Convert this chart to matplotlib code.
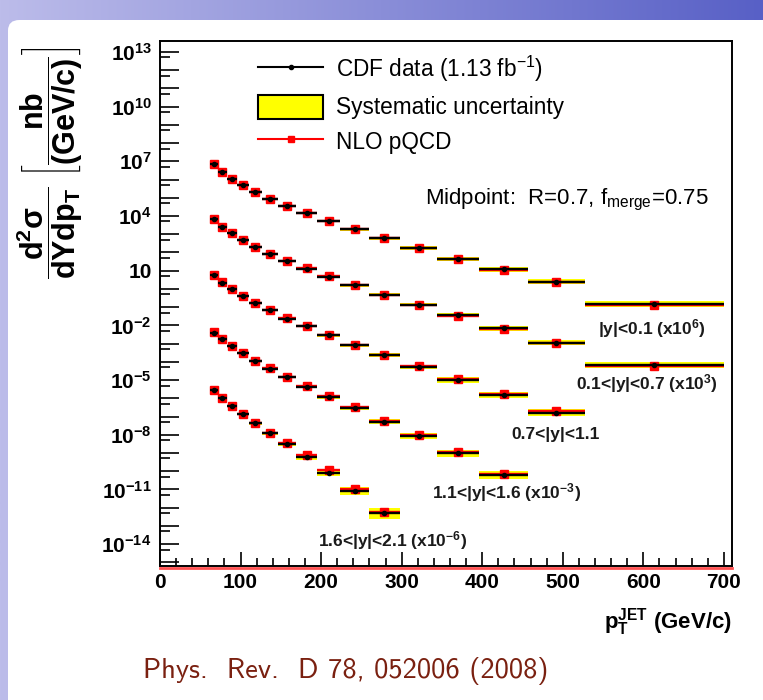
import numpy as np
import matplotlib
matplotlib.use('Agg')
import matplotlib.pyplot as plt
from matplotlib.lines import Line2D
from matplotlib.patches import Patch, FancyBboxPatch

plt.rcParams['font.family'] = ['Liberation Sans', 'DejaVu Sans']
plt.rcParams['mathtext.fontset'] = 'custom'
plt.rcParams['mathtext.rm'] = 'Liberation Sans'
plt.rcParams['mathtext.it'] = 'Liberation Sans:italic'
plt.rcParams['mathtext.bf'] = 'Liberation Sans:bold'
plt.rcParams['mathtext.sf'] = 'Liberation Sans'

# ---------------- data ----------------
pt_edges = [62, 72, 83, 96, 110, 127, 146, 169, 195, 224, 259, 298, 344, 396, 457, 527, 700]

# |y|<0.1 (x10^6)
data_y1 = [6.7e6, 2.66e6, 1.10e6, 5.15e5, 2.13e5, 8.8e4, 3.47e4, 1.38e4, 5.2e3, 1.83e3,
           589, 177, 45.5, 11.8, 2.5, 0.142]
nlo_y1 = [6.7e6, 2.7e6, 1.1e6, 5.2e5, 2.15e5, 8.9e4, 3.5e4, 1.4e4, 5.3e3, 1.85e3,
          600, 175, 44, 11.0, 2.3, 0.125]
sys_y1 = [10, 10, 10, 10, 11, 12, 13, 14, 16, 18, 21, 25, 29, 33, 38, 45]

# 0.1<|y|<0.7 (x10^3)
data_y2 = [6.47e3, 2.58e3, 1.107e3, 475, 196, 81.3, 33.6, 12.9, 4.69, 1.567,
           0.484, 0.137, 0.0356, 6.89e-3, 1.135e-3, 6.47e-5]
nlo_y2 = [6.5e3, 2.6e3, 1.1e3, 480, 198, 82, 34, 13.2, 4.8, 1.55,
          0.48, 0.135, 0.034, 6.5e-3, 1.05e-3, 6.0e-5]
sys_y2 = [10, 10, 10, 10, 11, 12, 13, 15, 17, 19, 22, 26, 30, 35, 40, 48]

# 0.7<|y|<1.1
data_y3 = [5.52, 2.20, 0.944, 0.406, 0.161, 0.0668, 0.0234, 9.2e-3, 2.85e-3, 8.07e-4,
           2.37e-4, 5.36e-5, 1.01e-5, 1.53e-6, 1.66e-7]
nlo_y3 = [5.6, 2.25, 0.95, 0.41, 0.165, 0.068, 0.024, 9.5e-3, 2.95e-3, 8.4e-4,
          2.5e-4, 5.8e-5, 1.1e-5, 1.7e-6, 1.9e-7]
sys_y3 = [10, 10, 11, 11, 12, 13, 15, 17, 20, 23, 27, 32, 38, 45, 55]

# 1.1<|y|<1.6 (x10^-3)
data_y4 = [4.01e-3, 1.88e-3, 7.38e-4, 2.94e-4, 1.11e-4, 4.27e-5, 1.48e-5, 4.41e-6, 1.19e-6,
           2.85e-7, 5.06e-8, 8.65e-9, 9.4e-10, 6.08e-11]
nlo_y4 = [4.1e-3, 1.9e-3, 7.5e-4, 3.0e-4, 1.13e-4, 4.4e-5, 1.55e-5, 4.7e-6, 1.3e-6,
          3.15e-7, 5.7e-8, 1.0e-8, 1.08e-9, 6.7e-11]
sys_y4 = [11, 11, 12, 13, 14, 16, 18, 21, 25, 30, 37, 45, 55, 70]

# 1.6<|y|<2.1 (x10^-6)
data_y5 = [2.76e-6, 1.007e-6, 3.81e-7, 1.34e-7, 4.30e-8, 1.22e-8, 3.03e-9, 5.66e-10,
           7.82e-11, 7.76e-12, 4.84e-13]
nlo_y5 = [2.8e-6, 1.03e-6, 3.9e-7, 1.4e-7, 4.5e-8, 1.3e-8, 3.5e-9, 7.6e-10,
          1.17e-10, 1.04e-11, 6.0e-13]
sys_y5 = [12, 13, 14, 16, 18, 21, 26, 33, 45, 65, 100]

row_labels = [r'|y|<0.1 (x10$^{\mathbf{6}}$)',
              r'0.1<|y|<0.7 (x10$^{\mathbf{3}}$)',
              r'0.7<|y|<1.1',
              r'1.1<|y|<1.6 (x10$^{\mathbf{-3}}$)',
              r'1.6<|y|<2.1 (x10$^{\mathbf{-6}}$)']
row_label_pos = [(0.860, 0.453), (0.851, 0.348), (0.692, 0.251), (0.606, 0.139), (0.406, 0.049)]

x_ticks = [0, 100, 200, 300, 400, 500, 600, 700]
y_exponents = list(range(-15, 14))

# ---------------- figure ----------------
W, H = 763, 700
fig = plt.figure(figsize=(W / 100, H / 100), dpi=100)

# slide background
bg = fig.add_axes([0, 0, 1, 1], zorder=-10)
grad = np.linspace(0, 1, 256)
c0 = np.array([188, 188, 234]) / 255
c1 = np.array([88, 96, 198]) / 255
img = (c0[None, :] * (1 - grad[:, None]) + c1[None, :] * grad[:, None])[None, :, :]
bg.imshow(img, extent=[0, 1, 0, 1], aspect='auto')
bg.add_patch(FancyBboxPatch((8 / W, -0.1), 1.2, (H - 20) / H + 0.1,
                            boxstyle='round,pad=0,rounding_size=0.015',
                            fc='white', ec='none'))
bg.set_xlim(0, 1)
bg.set_ylim(0, 1)
bg.axis('off')

ax = fig.add_axes([160 / W, (H - 566) / H, (732 - 160) / W, (566 - 41) / H])
ax.set_facecolor('white')
ax.set_yscale('log')
ax.set_xlim(0, 710)
ax.set_ylim(10 ** -15.2, 10 ** 13.6)

rows = [(data_y1, nlo_y1, sys_y1), (data_y2, nlo_y2, sys_y2), (data_y3, nlo_y3, sys_y3),
        (data_y4, nlo_y4, sys_y4), (data_y5, nlo_y5, sys_y5)]
edges = np.array(pt_edges, dtype=float)
for data, nlo, sysu in rows:
    n = len(data)
    lo = edges[:n]
    hi = edges[1:n + 1]
    c = (lo + hi) / 2
    hw = (hi - lo) / 2
    d = np.array(data)
    s = np.array(sysu) / 100.0
    ax.bar(c, d * (1 + s) - d / (1 + s), bottom=d / (1 + s), width=hi - lo,
           color='#ffff00', lw=0, zorder=2)
    ax.errorbar(c, nlo, xerr=hw, fmt='s', color='red', ms=5.8, elinewidth=1.7,
                capsize=0, zorder=3)
    ax.errorbar(c, d, xerr=hw, fmt='o', color='black', ms=3, elinewidth=1.7,
                capsize=0, zorder=4)

for lab, (px, py) in zip(row_labels, row_label_pos):
    ax.text(px, py, lab, transform=ax.transAxes, ha='center', va='center',
            fontsize=12.5, fontweight='bold', color='#1a1a1a')

# NLO curve clipped at the bottom
ax.plot([0, 1], [-0.003, -0.003], transform=ax.transAxes, color='#ff5050', lw=2,
        clip_on=False, zorder=1)

# ticks
ax.set_xticks(x_ticks)
ax.set_xticklabels([str(v) for v in x_ticks], fontweight='bold', fontsize=15)
ax.set_xticks(np.arange(0, 711, 20), minor=True)
yt = [10.0 ** e for e in y_exponents]
ylab = []
for e in y_exponents:
    if e % 3 == 1:
        ylab.append('10' if e == 1 else r'$\mathbf{10^{%d}}$' % e)
    else:
        ylab.append('')
ax.set_yticks(yt)
ax.set_yticklabels(ylab, fontweight='bold', fontsize=15)
ax.set_yticks([5 * 10.0 ** e for e in range(-16, 14)], minor=True)
ax.set_yticklabels([], minor=True)
ax.set_ylim(10 ** -15.2, 10 ** 13.6)
ax.tick_params(axis='y', which='major', direction='in', length=14, width=1.2, pad=6)
ax.tick_params(axis='y', which='minor', direction='in', length=7, width=1.2)
ax.tick_params(axis='x', which='major', direction='in', length=10, width=1.2, pad=5)
ax.tick_params(axis='x', which='minor', direction='in', length=5.5, width=1.2)
for sp in ax.spines.values():
    sp.set_linewidth(1.4)

ax.set_xlabel(r'$\mathbf{p_{T}^{JET}}$ (GeV/c)', loc='right', fontsize=16,
              fontweight='bold', labelpad=10)

fig.text(50 / W, 1 - 163 / H,
         r'$\mathbf{\dfrac{d^{2}\sigma}{dYdp_{T}}}\ \mathbf{\left[\dfrac{nb}{(GeV/c)}\right]}$',
         rotation=90, ha='center', va='center', fontsize=22)

# legend
handles = [Line2D([], [], color='black', lw=1.5, marker='o', ms=3),
           Patch(facecolor='#ffff00', edgecolor='black', lw=1.5),
           Line2D([], [], color='red', lw=1.5, marker='s', ms=5)]
labels = [r'CDF data (1.13 fb$^{\mathrm{-1}}$)', 'Systematic uncertainty', 'NLO pQCD']
ax.legend(handles, labels, loc='upper left', bbox_to_anchor=(0.171, 0.975),
          frameon=False, fontsize=16.3, handlelength=2.9, handleheight=1.26,
          labelspacing=0.45, borderpad=0, borderaxespad=0, handletextpad=0.55)

ax.text(0.463, 0.698, r'Midpoint:  R=0.7, f$_{\mathrm{merge}}$=0.75',
        transform=ax.transAxes, ha='left', va='center', fontsize=16)

fig.text(143 / W, 1 - 678 / H, 'Phys.  Rev.  D 78, 052006 (2008)',
         family=['cmss10', 'DejaVu Sans'], fontsize=20.5, color='#7a2010',
         ha='left', va='baseline')

fig.savefig('out.png', dpi=100)
